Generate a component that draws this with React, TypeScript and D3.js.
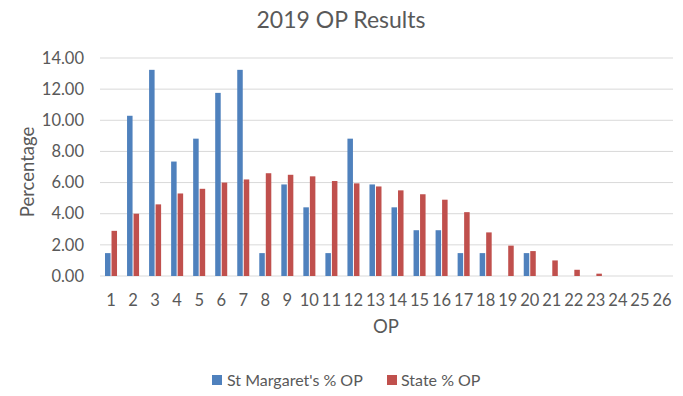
import React from 'react';
import * as d3 from 'd3';

const categories = d3.range(1, 27).map(String);
const stMargarets = [1.47, 10.29, 13.24, 7.35, 8.82, 11.76, 13.24, 1.47, 5.88, 4.41, 1.47, 8.82, 5.88, 4.41, 2.94, 2.94, 1.47, 1.47, 0, 1.47, 0, 0, 0, 0, 0, 0];
const statePct = [2.9, 4.0, 4.6, 5.3, 5.6, 6.0, 6.2, 6.6, 6.5, 6.4, 6.1, 5.95, 5.75, 5.5, 5.25, 4.9, 4.1, 2.8, 1.95, 1.6, 1.0, 0.4, 0.15, 0, 0, 0];
const yTicks = [0, 2, 4, 6, 8, 10, 12, 14];
const seriesNames = ["St Margaret's % OP", 'State % OP'];
const colors = ['#4F81BD', '#C0504D'];

const App = () => {
  const width = 683;
  const height = 396;
  const font = 'Lato, Carlito, Calibri, sans-serif';
  const textColor = '#595959';

  const x = d3.scaleBand().domain(categories).range([100, 673]);
  const y = d3.scaleLinear().domain([0, 14]).range([276, 58]);
  const barW = x.bandwidth() * 0.25;

  const series = [stMargarets, statePct];

  return (
    <svg width={width} height={height} style={{ position: 'absolute', left: 0, top: 0 }}>
      <rect width={width} height={height} fill="#fff" />
      <text x={341} y={28} textAnchor="middle" fontFamily={font} fontSize={23} fill={textColor}>
        2019 OP Results
      </text>

      {yTicks.map(t => (
        <g key={t}>
          <line x1={100} x2={673} y1={y(t)} y2={y(t)} stroke="#D9D9D9" strokeWidth={1} />
          <text x={84} y={y(t)} dy="0.35em" textAnchor="end" fontFamily={font} fontSize={16.5} fill={textColor}>
            {t.toFixed(2)}
          </text>
        </g>
      ))}

      {series.map((vals, si) =>
        vals.map((v, i) => {
          const cx = (x(categories[i]) as number) + x.bandwidth() / 2;
          const bx = si === 0 ? cx - barW - 0.5 : cx + 0.5;
          return (
            <rect key={`${si}-${i}`} x={bx} y={y(v)} width={barW} height={y(0) - y(v)} fill={colors[si]} />
          );
        })
      )}

      {categories.map(c => (
        <text key={c} x={(x(c) as number) + x.bandwidth() / 2} y={300} dy="0.35em" textAnchor="middle"
          fontFamily={font} fontSize={16.5} fill={textColor}>
          {c}
        </text>
      ))}

      <text x={386} y={327} dy="0.35em" textAnchor="middle" fontFamily={font} fontSize={18.5} fill={textColor}>
        OP
      </text>
      <text transform="translate(28,172) rotate(-90)" dy="0.35em" textAnchor="middle" fontFamily={font}
        fontSize={18.5} fill={textColor}>
        Percentage
      </text>

      <g>
        <rect x={212} y={375} width={10} height={10} fill={colors[0]} />
        <text x={227} y={380} dy="0.35em" fontFamily={font} fontSize={16} fill={textColor}>{seriesNames[0]}</text>
        <rect x={387} y={375} width={10} height={10} fill={colors[1]} />
        <text x={401} y={380} dy="0.35em" fontFamily={font} fontSize={16} fill={textColor}>{seriesNames[1]}</text>
      </g>
    </svg>
  );
};

export default App;
